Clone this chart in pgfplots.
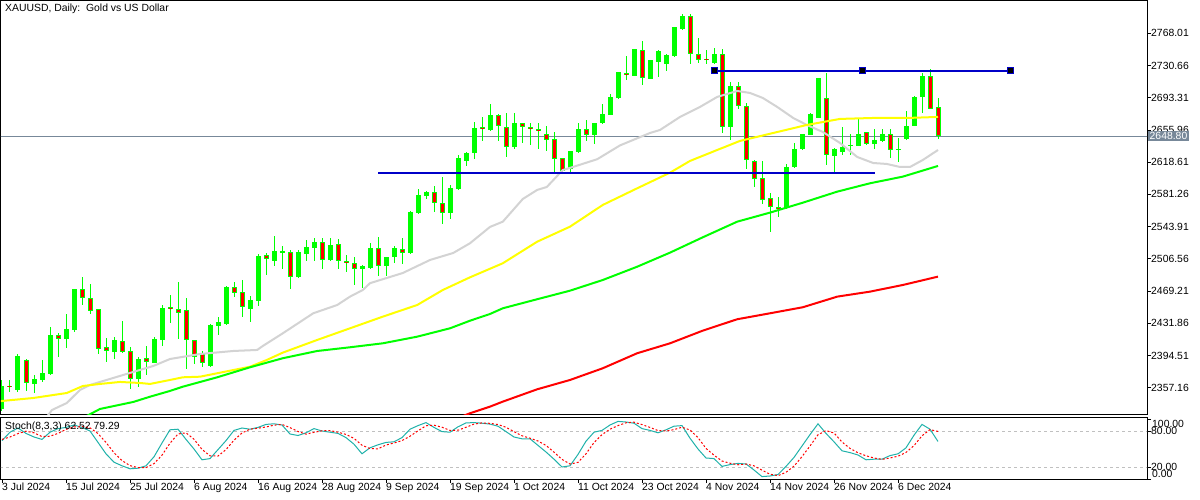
\documentclass[border=0pt]{standalone}
\usepackage{fontspec}
\setmainfont{Liberation Sans}
\usepackage{pgfplots}
\pgfplotsset{compat=1.18}
\usepackage{pgfplotstable}
\definecolor{mtlime}{RGB}{0,255,0}
\definecolor{mtred}{RGB}{255,0,0}
\definecolor{mtyellow}{RGB}{255,255,0}
\definecolor{mtgrey}{RGB}{211,211,211}
\definecolor{mtblue}{RGB}{0,0,200}
\definecolor{mtslate}{RGB}{119,136,153}
\definecolor{mtteal}{RGB}{32,178,170}
\definecolor{mtlevel}{RGB}{192,192,192}

\pgfplotstableread{
i o h l c
0 2333 2366 2330 2359
1 2359 2366 2352.5 2358.5
2 2355 2396 2352 2394
3 2389.3 2390 2353.4 2362.3
4 2362 2372 2351.4 2367.3
5 2366.5 2389.3 2363.8 2374.2
6 2373.4 2427.5 2372 2418
7 2417.9 2420.9 2393.1 2414
8 2414 2442.6 2403.2 2424.9
9 2424 2471.6 2422 2471.2
10 2471.2 2485.1 2453.4 2461.2
11 2460.8 2477.4 2442.3 2446.4
12 2448 2448.4 2395.9 2402.4
13 2404 2414.4 2386.6 2399.7
14 2398.9 2415.6 2390.8 2412.5
15 2411.3 2434.5 2397 2398.9
16 2399.7 2404 2355.3 2366.9
17 2366.9 2393.1 2358.4 2390.4
18 2391.6 2405.5 2371.9 2386.6
19 2386.2 2415.6 2385.8 2413.6
20 2412.5 2453 2405.9 2449.6
21 2450.7 2464.6 2432.5 2448
22 2448 2480 2413.3 2443.4
23 2447.2 2461.2 2378.5 2412.1
24 2412.1 2412.5 2384.3 2393.1
25 2395.9 2399.7 2381.5 2385.5
26 2382.7 2431 2381.5 2429.9
27 2428.7 2439.1 2418.3 2433.4
28 2431 2475 2430 2474.3
29 2473.6 2479.7 2462.3 2466.6
30 2468.1 2482 2439.5 2450.4
31 2448.8 2463 2433.7 2458.8
32 2458 2512.2 2452.2 2509.8
33 2511 2513 2487.5 2506
34 2504 2533 2498.3 2515.6
35 2513.7 2521.4 2495.1 2515.6
36 2514.5 2517 2472 2485.9
37 2485.9 2516.8 2484 2514.5
38 2512.2 2528 2504 2520.3
39 2519.5 2530.7 2504 2526
40 2526 2530.7 2494.8 2505
41 2505.2 2531.1 2504 2522.6
42 2523.7 2529.2 2495.1 2504.4
43 2503.7 2510.7 2491.6 2501.4
44 2501.4 2509.1 2475.9 2494.4
45 2494.4 2499 2473.1 2498.6
46 2496.3 2524.6 2495 2519.1
47 2519.1 2531.5 2487 2498.6
48 2498.6 2509 2487 2508.7
49 2508.4 2521.4 2501.4 2519.1
50 2518.3 2531.1 2500.9 2513
51 2513.7 2562.4 2512 2560.9
52 2560.1 2587.5 2558.2 2580.6
53 2579.4 2585 2576.3 2584
54 2584 2590.6 2560.9 2570.9
55 2570.9 2601.1 2547.3 2560.1
56 2560.1 2592.1 2552.4 2588.7
57 2587.5 2627.3 2586 2623.1
58 2620.3 2630 2614.5 2629.2
59 2629.6 2664.8 2622.6 2657.9
60 2658.5 2671.3 2643.1 2657.9
61 2655.9 2686 2654.7 2673.3
62 2673.3 2674 2643.1 2660.2
63 2659 2675.3 2625 2635.8
64 2635.8 2675.3 2633.5 2663.7
65 2663.7 2664.4 2641.2 2659
66 2659 2664.4 2638.2 2656.7
67 2656.7 2664.4 2633.5 2654.4
68 2650.9 2660.5 2631.6 2644
69 2645.1 2653.2 2607.6 2622.3
70 2623.1 2623.5 2607.6 2608.7
71 2610.3 2632 2607.6 2631.9
72 2630 2663.7 2629 2657
73 2656.7 2667.5 2643.1 2650.1
74 2650.1 2664 2639.3 2663.7
75 2663.7 2686 2663 2674.1
76 2673.6 2697.6 2673 2693.8
77 2692.6 2723.5 2692 2723.1
78 2721.3 2741.7 2713.9 2720.8
79 2718.9 2750 2718 2749.8
80 2748.6 2759.1 2708.4 2715.8
81 2715.4 2737.5 2715 2737
82 2735.1 2748.6 2717 2747.5
83 2732.8 2743.5 2724.6 2742.8
84 2741.7 2775.5 2741 2775
85 2772.6 2790.4 2772 2788.4
86 2788 2790.4 2732.1 2743.7
87 2743.7 2762.2 2733.2 2737
88 2737.8 2748.6 2732.1 2737.4
89 2733.2 2751 2732.8 2744
90 2744 2750.2 2652.8 2659.7
91 2659.7 2711.9 2644.3 2706.9
92 2706.9 2711.9 2679.9 2683.7
93 2683.7 2686.8 2611 2621.1
94 2620.3 2620.6 2590.2 2598.8
95 2599.9 2620 2570.1 2574.8
96 2576.7 2583.2 2538 2566.3
97 2566.3 2578.2 2555.4 2564
98 2565.1 2616.5 2564.5 2613.4
99 2612.7 2640.5 2612 2633.5
100 2633.5 2651.5 2633 2651.3
101 2649.8 2675.3 2649.5 2674.4
102 2669.8 2716 2669.5 2715.8
103 2692.6 2722.3 2615.3 2626.6
104 2626.1 2634.5 2607.6 2633.9
105 2630.9 2659 2626.9 2636.7
106 2637.7 2651.3 2626.9 2638.2
107 2637.7 2668.3 2637 2651.3
108 2653.2 2653.5 2638.5 2639.3
109 2640 2656.7 2633.5 2644.3
110 2643.1 2656.7 2642.5 2651.3
111 2650.9 2656.7 2623.8 2632.7
112 2633.1 2646.3 2618.5 2633.6
113 2645.1 2677.9 2644.5 2660.9
114 2660.9 2695.7 2660 2694.2
115 2694.5 2721.6 2675.3 2718.9
116 2718.5 2726.6 2680 2680.6
117 2682.2 2693.3 2645.1 2648.8
}\ohlc

\pgfplotstableread{
i k d
0 64 66
1 78 70
2 85 75.7
3 76 79.7
4 70 77
5 66 70.7
6 78 71.3
7 84 76
8 86 82.7
9 90 86.7
10 86 87.3
11 80 85.3
12 61 75.7
13 42 61
14 28 43.7
15 22 30.7
16 17 22.3
17 18 19
18 22 19
19 37 25.7
20 60 39.7
21 82 59.7
22 83 75
23 66 77
24 50 66.3
25 32 49.3
26 34 38.7
27 49 38.3
28 64 49
29 81 64.7
30 85 76.7
31 83 83
32 86 84.7
33 91 86.7
34 92 89.7
35 90 91
36 75 85.7
37 72.5 79.2
38 77 74.8
39 84 77.8
40 80 80.3
41 78 80.7
42 76 78
43 69 74.3
44 58 67.7
45 42 56.3
46 52 50.7
47 57 50.3
48 61 56.7
49 62 60
50 69 64
51 83 71.3
52 89 80.3
53 94 88.7
54 86 89.7
55 79 86.3
56 78 81
57 87 81.3
58 93.5 86.2
59 94 91.5
60 93 93.5
61 91.5 92.8
62 88 90.8
63 79 86.2
64 70 79
65 67 72
66 67 68
67 56 63.3
68 45 56
69 33 44.7
70 20 32.7
71 22 25
72 41 27.7
73 63 42
74 78 60.7
75 81 74
76 90 83
77 96 89
78 95 93.7
79 93 94.7
80 84 90.7
81 81 86
82 77 80.7
83 82 80
84 88 82.3
85 89 86.3
86 68 81.7
87 50 69
88 35 51
89 34 39.7
90 21 30
91 24 26.3
92 26 23.7
93 25 25
94 15 22
95 4 14.7
96 5 8
97 7.5 5.5
98 21 11.2
99 36 21.5
100 55 37.3
101 74 55
102 92 73.7
103 76 80.7
104 62 76.7
105 47 61.7
106 44 51
107 40 43.7
108 32 38.7
109 33 35
110 33 32.7
111 39 35
112 42 38
113 52 44.3
114 73 55.7
115 91 72
116 83 82.3
117 62.52 79.29
}\stoch

\begin{document}
\fontsize{10.4}{12}\selectfont
\begin{tikzpicture}[x=1pt,y=1pt]
\useasboundingbox (0,0) rectangle (1200,-500);
\fill[white] (0,0) rectangle (1200,-500);
% ---------------- main price panel
\begin{axis}[
  at={(1pt,-0.5pt)}, anchor=north west,
  scale only axis, width=1146pt, height=414pt,
  xmin=-0.125, xmax=143.125,
  ymin=2326.1, ymax=2806.0,
  clip mode=individual,
  axis line style={black, line width=1pt},
  xtick=\empty,
  ytick={2357.16,2394.51,2431.86,2469.21,2506.56,2543.91,2581.26,2618.61,2655.96,2693.31,2730.66,2768.01},
  yticklabels={2357.16,2394.51,2431.86,2469.21,2506.56,2543.91,2581.26,2618.61,2655.96,2693.31,2730.66,2768.01},
  ytick pos=right, yticklabel pos=right,
  tick align=outside, major tick length=4pt,
  tick style={black, line width=0.8pt},
  yticklabel style={anchor=west, inner sep=0pt, xshift=0pt, font=\fontsize{10.4}{12}\selectfont},
]
% bid line
\addplot[mtslate, line width=1pt, forget plot] coordinates {(-1,2648.8) (150,2648.8)};
% wicks
\addplot[draw=none, mark=none, forget plot,
  error bars/.cd, y dir=both, y explicit, error mark=none,
  error bar style={draw=mtlime, line width=1pt}]
  table[x=i, y expr={(\thisrow{h}+\thisrow{l})/2}, y error expr={(\thisrow{h}-\thisrow{l})/2}] {\ohlc};
% bodies (outline / up colour)
\addplot[draw=none, mark=none, forget plot,
  error bars/.cd, y dir=both, y explicit, error mark=none,
  error bar style={draw=mtlime, line width=5pt}]
  table[x=i, y expr={(\thisrow{o}+\thisrow{c})/2}, y error expr={max(abs(\thisrow{c}-\thisrow{o})/2,0.6)}] {\ohlc};
% red fill of down candles
\addplot[draw=none, mark=none, forget plot,
  error bars/.cd, y dir=both, y explicit, error mark=none,
  error bar style={draw=mtred, line width=3pt}]
  table[x=i, y expr={\thisrow{c}<\thisrow{o} ? (\thisrow{o}+\thisrow{c})/2 : 0}, y error expr={max((\thisrow{o}-\thisrow{c})/2-1.16,0.15)}] {\ohlc};
% moving averages
\addplot[mtgrey, line width=2pt] coordinates {
(5.5,2322) (6.25,2331.3) (8.1,2339.4) (9.75,2354.5) (11,2360.3) (13.9,2368.4) (16.4,2375.4) (18.9,2382.3) (21,2390.4) (24.75,2396.2) (28.9,2399.7) (31.9,2400.9) (32.6,2405.5) (35.1,2420.2) (38.9,2443.4) (41.9,2453) (43.5,2462.7) (45.1,2470.4) (46,2478.3) (50.1,2490.1) (53.5,2505.2) (56.4,2513.3) (58.5,2524.6) (61,2543.5) (62.6,2549.6) (65.1,2575.9) (66.9,2586.4) (68.1,2589.8) (70.1,2609.5) (71,2611.9) (74.4,2622) (77.25,2638) (81,2652.4) (82.25,2655.9) (84.75,2671) (87.25,2682.6) (89.4,2694.2) (91.9,2701.1) (93.5,2698.8) (95.1,2693) (96.9,2682.6) (98.9,2669.8) (100.6,2661.7) (102.6,2653.6) (104.75,2640.8) (106.9,2624.6) (108.9,2617.6) (110.6,2616.5) (112.25,2613) (113.5,2613) (115.1,2621.1) (117,2632.7)};
\addplot[mtyellow, line width=2pt] coordinates {
(-0.3,2341.5) (3.9,2345.2) (8.1,2351) (10.1,2359.1) (12.25,2361.5) (14.75,2363.8) (17.25,2362.6) (18.5,2361.5) (21,2366.1) (22.6,2369.2) (24.75,2369.9) (26.9,2373.9) (31,2381.5) (33.1,2389.3) (35.1,2397.8) (39.4,2412.5) (43.5,2426) (47.6,2439.5) (51.9,2453) (55.1,2470.4) (58.5,2485.1) (62.6,2501.4) (66.9,2526.4) (71,2543.8) (75.1,2569) (79.4,2588.3) (83.5,2606.4) (86,2620) (89.4,2632.7) (92.25,2643.2) (96.4,2652.4) (100.6,2661.7) (104.75,2668.7) (108.9,2669.8) (113.1,2669.8) (117,2671)};
\addplot[mtlime, line width=2pt] coordinates {
(9.9,2321) (12.25,2332.5) (16.4,2340.6) (18.5,2346.7) (21,2353.4) (22.6,2358.3) (26.9,2369.2) (31,2380.8) (35.1,2391.3) (39.4,2399.7) (43.5,2404) (47.6,2408.6) (51.9,2416.3) (56,2426) (58.5,2434.8) (61,2442.6) (62.6,2449.2) (66.9,2459.7) (71,2469.6) (75.1,2482) (79.4,2497.4) (83.5,2513.7) (87.6,2531.5) (91.9,2549.6) (96,2560.1) (100.1,2571.6) (104.4,2584.4) (108.5,2594.1) (112.6,2601.8) (117,2614.2)};
\addplot[mtred, line width=2pt] coordinates {
(57,2322) (58.5,2327.5) (61,2335.2) (62.6,2341) (66.9,2355.3) (71,2366.1) (75.1,2379.7) (79.4,2397.1) (83.5,2408.6) (87.6,2423.3) (91.9,2436.5) (96,2443.4) (100.1,2450.4) (104.4,2462.7) (108.5,2468.5) (112.6,2476.2) (117,2485.9)};
% trend lines
\addplot[mtblue, line width=2pt] coordinates {(47,2606.4) (109.1,2606.4)};
\addplot[mtblue, line width=2pt, mark=square*, mark size=3pt,
  mark options={fill=black, draw=mtblue, line width=1pt}] coordinates {(89,2724.5) (107.5,2724.5) (126.1,2724.5)};
% title and bid tag
\node[anchor=north west, inner sep=0pt] at (rel axis cs:0,1) [xshift=4pt, yshift=-3pt] {XAUUSD, Daily:\ \ Gold vs US Dollar};
\node[anchor=west, fill=mtslate, text=white, inner xsep=1.5pt, inner ysep=1.5pt] at (axis cs:143.125,2648.8) [xshift=1pt] {2648.80};
\end{axis}
% ---------------- stochastic panel
\begin{axis}[
  at={(1pt,-417.5pt)}, anchor=north west,
  scale only axis, width=1146pt, height=61.5pt,
  xmin=-0.125, xmax=143.125,
  ymin=0, ymax=102.5,
  clip mode=individual,
  axis line style={black, line width=1pt},
  xtick={0,8,...,112},
  xticklabels={3 Jul 2024,15 Jul 2024,25 Jul 2024,6 Aug 2024,16 Aug 2024,28 Aug 2024,9 Sep 2024,19 Sep 2024,1 Oct 2024,11 Oct 2024,23 Oct 2024,4 Nov 2024,14 Nov 2024,26 Nov 2024,6 Dec 2024},
  xtick pos=bottom,
  xticklabel style={anchor=north west, inner sep=0pt, xshift=0pt, yshift=0pt, font=\fontsize{10.4}{12}\selectfont},
  ytick={0,20,80,100},
  yticklabels={,20.00,80.00,},
  ytick pos=right, yticklabel pos=right,
  tick align=outside, major tick length=4pt,
  tick style={black, line width=0.8pt},
  yticklabel style={anchor=west, inner sep=0pt, font=\fontsize{10.4}{12}\selectfont},
]
\addplot[mtlevel, line width=0.8pt, dash pattern=on 3pt off 3pt, forget plot] coordinates {(-1,80) (150,80)};
\addplot[mtlevel, line width=0.8pt, dash pattern=on 3pt off 3pt, forget plot] coordinates {(-1,20) (150,20)};
\addplot[mtteal, line width=1pt] table[x=i, y=k] {\stoch};
\addplot[mtred, line width=1pt, dash pattern=on 2pt off 2pt] table[x=i, y=d] {\stoch};
\node[anchor=north west, inner sep=0pt] at (rel axis cs:0,1) [xshift=4pt, yshift=-4pt] {Stoch(8,3,3) 62.52 79.29};
\node[anchor=west, inner sep=0pt] at (axis cs:143.125,91.5) [xshift=5pt] {100.00};
\node[anchor=west, inner sep=0pt] at (axis cs:143.125,9) [xshift=5pt] {0.00};
\end{axis}
\end{tikzpicture}
\end{document}
